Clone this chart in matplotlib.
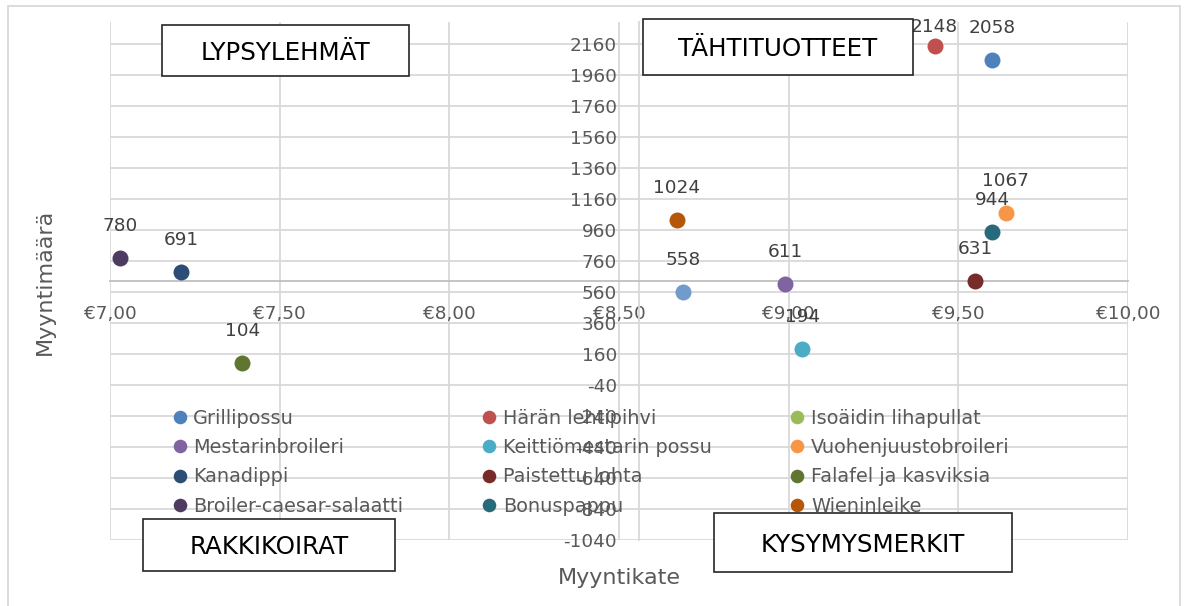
import numpy as np
import matplotlib
matplotlib.use("Agg")
import matplotlib.pyplot as plt
from matplotlib.patches import Rectangle
from matplotlib.ticker import FuncFormatter

plt.rcParams["axes.unicode_minus"] = False

W, H = 1186, 606

# tuotteet (series order as in the legend, row by row)
tuotteet = ["Grillipossu", "Härän lehtipihvi", "Isoäidin lihapullat",
            "Mestarinbroileri", "Keittiömestarin possu", "Vuohenjuustobroileri",
            "Kanadippi", "Paistettu lohta", "Falafel ja kasviksia",
            "Broiler-caesar-salaatti", "Bonuspappu", "Wieninleike", "Sarja13"]
myyntikate = [9.60, 9.43, np.nan, 8.99, 9.04, 9.64, 7.21, 9.55, 7.39, 7.03, 9.60, 8.67, 8.69]
myyntimaara = [2058, 2148, np.nan, 611, 194, 1067, 691, 631, 104, 780, 944, 1024, 558]
varit = ["#4F81BD", "#C0504D", "#9BBB59", "#8064A2", "#4BACC6", "#F79646",
         "#2C4D75", "#772C2A", "#5F7530", "#4D3B62", "#276A7C", "#B65708", "#729ACA"]
nakyy_selitteessa = [True] * 12 + [False]

# axis crossing points (averages)
keski_kate = 8.56
keski_maara = 628

# quadrant boxes: text, (x0, y0, x1, y1) in pixels
lokerot = [("LYPSYLEHMÄT", (162, 25, 409, 76)),
           ("TÄHTITUOTTEET", (643, 19, 913, 75)),
           ("RAKKIKOIRAT", (143, 519, 395, 571)),
           ("KYSYMYSMERKIT", (714, 513, 1012, 572))]

harmaa = "#595959"
grid_c = "#D9D9D9"
fs = 13.3

fig = plt.figure(figsize=(W / 100, H / 100), dpi=100)
fig.patches.append(Rectangle((8 / W, -0.1), 1172 / W, 1 - 6 / H + 0.1,
                             transform=fig.transFigure, fill=False,
                             edgecolor=grid_c, lw=1.3))

ax = fig.add_axes([110 / W, 1 - 540 / H, 1018 / W, 518 / H])
ax.set_xlim(7.0, 10.0)
ax.set_ylim(-1040, 2300)

ax.set_xticks(np.arange(7.0, 10.01, 0.5))
ax.set_yticks(np.arange(-1040, 2161, 200))
ax.xaxis.set_major_formatter(FuncFormatter(lambda v, p: "€" + f"{v:.2f}".replace(".", ",")))
ax.grid(True, color=grid_c, lw=1.3, zorder=0)
ax.set_axisbelow(True)

for s in ["top", "right"]:
    ax.spines[s].set_visible(False)
ax.spines["bottom"].set_position(("data", keski_maara))
ax.spines["left"].set_position(("data", keski_kate))
ax.spines["bottom"].set_color("#BFBFBF")
ax.spines["left"].set_color(grid_c)
ax.spines["bottom"].set_linewidth(1.3)
ax.spines["left"].set_linewidth(1.3)
ax.tick_params(axis="x", length=0, pad=17, labelsize=fs, labelcolor=harmaa)
ax.tick_params(axis="y", length=0, pad=16, labelsize=fs, labelcolor=harmaa)

kahvat = []
for nimi, x, y, c, nak in zip(tuotteet, myyntikate, myyntimaara, varit, nakyy_selitteessa):
    h, = ax.plot([x], [y], "o", ms=11.5, color=c, mec="none", ls="none",
                 label=nimi if nak else "_nolegend_", zorder=4, clip_on=False)
    if nak:
        kahvat.append(h)
    if not np.isnan(y):
        off = 23 if y < 2100 else 13.5
        ax.annotate(f"{y:.0f}", (x, y), xytext=(0, off), textcoords="offset points",
                    ha="center", va="center", fontsize=fs, color="#404040",
                    annotation_clip=False, zorder=5)

# excel fills legend row by row, matplotlib column by column
jarj = [0, 3, 6, 9, 1, 4, 7, 10, 2, 5, 8, 11]
leg = ax.legend([kahvat[i] for i in jarj], [kahvat[i].get_label() for i in jarj],
                ncol=3, frameon=False, fontsize=13.9, labelcolor=harmaa,
                loc="upper left", bbox_to_anchor=(172 / W, 1 - 408.5 / H),
                bbox_transform=fig.transFigure, borderpad=0, borderaxespad=0,
                handlelength=0.8, handletextpad=0.3, columnspacing=4.05,
                labelspacing=0.54, markerscale=0.85)

ax.set_xlabel("Myyntikate", fontsize=16, color=harmaa)
ax.set_ylabel("Myyntimäärä", fontsize=16, color=harmaa)
ax.xaxis.set_label_coords(0.5, -(578 - 540) / 518)
ax.yaxis.set_label_coords(-(110 - 45) / 1018, (540 - 282) / 518)
ax.xaxis.label.set_va("center")
ax.yaxis.label.set_va("center")

for teksti, (x0, y0, x1, y1) in lokerot:
    fig.patches.append(Rectangle((x0 / W, 1 - y1 / H), (x1 - x0) / W, (y1 - y0) / H,
                                 transform=fig.transFigure, facecolor="white",
                                 edgecolor="#262626", lw=1.2, zorder=10))
    fig.text((x0 + x1) / 2 / W, 1 - ((y0 + y1) / 2 + 2) / H, teksti,
             ha="center", va="center", fontsize=17.7, color="black", zorder=11)

fig.savefig("out.png", dpi=100)
